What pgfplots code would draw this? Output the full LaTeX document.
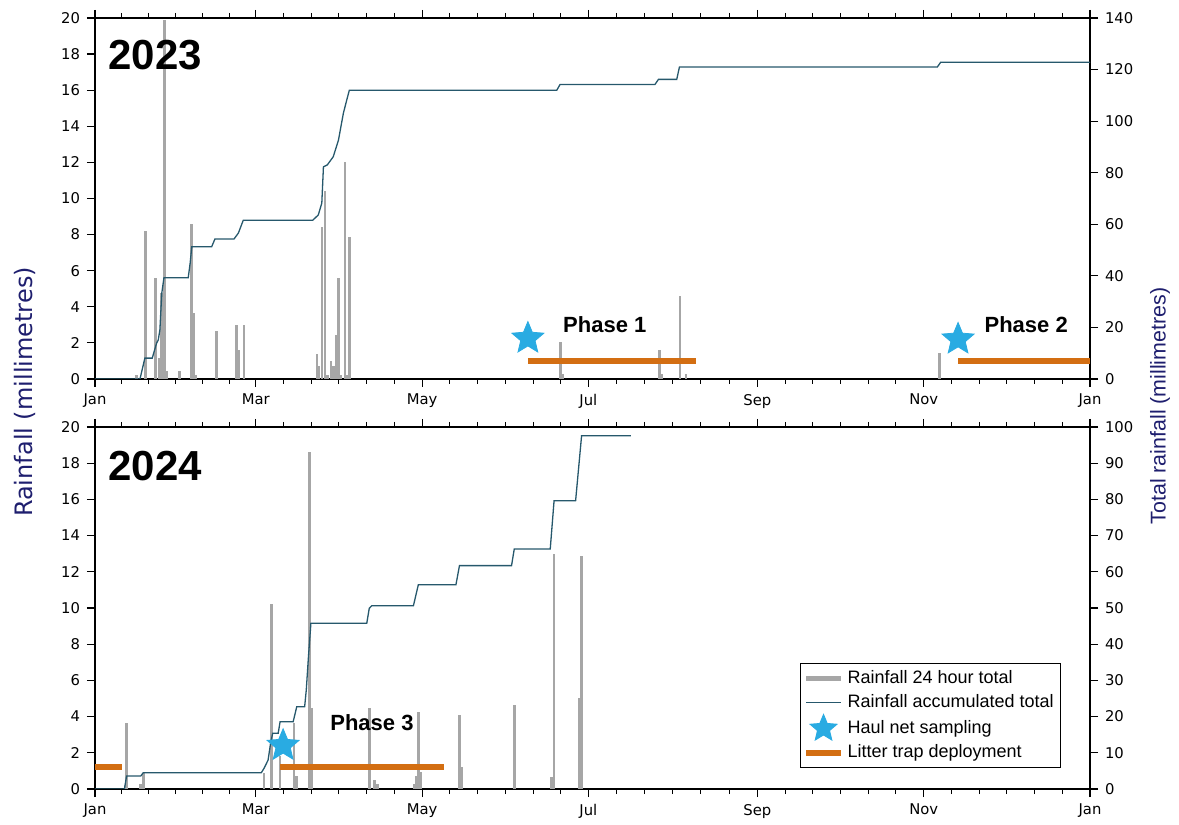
\documentclass[border=0pt]{standalone}
\usepackage{fontspec}
\setmainfont{DejaVu Sans}
\newfontfamily\arial{Liberation Sans}
\usepackage{pgfplots}
\pgfplotsset{compat=1.18}

\definecolor{barcol}{RGB}{166,166,166}
\definecolor{linecol}{RGB}{38,88,108}
\definecolor{starcol}{RGB}{41,171,226}
\definecolor{orangecol}{RGB}{211,110,18}
\definecolor{labcol}{RGB}{30,30,110}

\pgfdeclareplotmark{fstar}{%
  \pgfpathmoveto{\pgfpointpolar{90}{\pgfplotmarksize}}%
  \pgfpathlineto{\pgfpointpolar{126}{0.45\pgfplotmarksize}}%
  \pgfpathlineto{\pgfpointpolar{162}{\pgfplotmarksize}}%
  \pgfpathlineto{\pgfpointpolar{198}{0.45\pgfplotmarksize}}%
  \pgfpathlineto{\pgfpointpolar{234}{\pgfplotmarksize}}%
  \pgfpathlineto{\pgfpointpolar{270}{0.45\pgfplotmarksize}}%
  \pgfpathlineto{\pgfpointpolar{306}{\pgfplotmarksize}}%
  \pgfpathlineto{\pgfpointpolar{342}{0.45\pgfplotmarksize}}%
  \pgfpathlineto{\pgfpointpolar{18}{\pgfplotmarksize}}%
  \pgfpathlineto{\pgfpointpolar{54}{0.45\pgfplotmarksize}}%
  \pgfpathclose
  \pgfusepathqfillstroke}

\pgfplotsset{
  base/.style={scale only axis, width=497.5pt, xmin=0, xmax=365,
    /pgf/number format/assume math mode=true,
    tick label style={font=\fontsize{7.4}{8.5}\selectfont},
    axis line style={black, line width=0.7pt},
    tick style={black, line width=0.6pt},
    major tick length=4pt, minor tick length=2.5pt,
    tick align=outside},
  leftax/.style={base, ymin=0, ymax=20, ytick={0,2,...,20},
    xtick={0,59,120,181,243,304,365},
    xticklabels={Jan,Mar,May,Jul,Sep,Nov,Jan},
    minor xtick={9.8,19.7,29.5,39.3,49.2,69.2,79.3,89.5,99.7,109.8,130.2,140.3,150.5,160.7,170.8,191.3,201.7,212,222.3,232.7,253.2,263.3,273.5,283.7,293.8,314.2,324.3,334.5,344.7,354.8},
    minor x tick style={black, line width=0.5pt},
    xtick pos=both, xticklabel pos=bottom,
    ytick pos=left},
  rightax/.style={base, axis x line=none, axis y line*=right, ytick pos=right},
  overax/.style={base, hide axis, ymin=0, ymax=20},
}

\pgfplotstableread{
day mm
15.3 0.2
18.6 8.2
22.3 5.6
23.5 1.15
24.3 4.75
24.9 2.6
25.4 19.9
26.2 0.45
31.0 0.45
35.5 8.6
36.2 3.65
37.0 0.2
44.5 2.65
52.0 3.0
52.7 1.6
54.7 3.0
81.5 1.4
82.2 0.7
83.3 8.4
84.4 10.4
85.2 0.2
86.5 1.0
87.4 0.7
88.4 2.45
89.3 5.6
90.2 0.2
91.7 12.0
92.5 0.2
93.4 7.85
170.8 2.05
171.7 0.3
207.0 1.6
207.9 0.3
214.6 4.6
216.8 0.3
309.8 1.45
}\barsA

\pgfplotstableread{
day tot
0 0
16.5 0
18.3 8.1
21.0 8.1
22.6 13.9
23.2 15.1
23.8 19
24.5 33.3
25.3 39.3
34.2 39.3
34.9 44.9
35.5 51.3
42.8 51.3
44.0 54.3
51.0 54.3
52.6 56.6
54.4 61.6
79.9 61.6
81.9 63.6
83.2 68.2
83.8 82.3
85.2 83
87.4 86.2
89.3 92.6
91.1 103
92.3 108
93.3 112
169.4 112
170.6 114.2
205.4 114.2
206.7 116.2
213.4 116.2
214.4 121
309.0 121
310.2 122.8
365 122.8
}\lineA

\pgfplotstableread{
day mm
11.0 0.2
11.6 3.66
16.7 0.3
17.7 0.88
62.0 0.9
64.8 10.2
67.9 1.8
73.0 3.63
74.0 0.7
78.6 18.6
79.5 4.5
100.6 4.5
102.6 0.5
103.6 0.3
117.0 0.3
118.0 0.7
118.6 4.27
119.4 0.96
133.7 4.1
134.6 1.23
153.8 4.64
167.5 0.68
168.4 13.0
177.7 5.0
178.5 12.85
}\barsB

\pgfplotstableread{
day tot
0 0
10.8 0
11.6 3.6
16.8 3.6
17.7 4.5
61.0 4.5
62.0 5.7
63.5 8.0
64.5 13.1
65.2 15.4
67.2 15.4
67.9 18.6
72.7 18.6
74.0 22.7
76.9 22.7
77.5 27.3
78.3 36.5
79.2 45.8
99.7 45.8
100.6 49.9
101.5 50.6
116.8 50.6
118.6 56.4
132.4 56.4
133.7 61.7
152.8 61.7
153.8 66.3
167.0 66.3
168.4 79.6
176.3 79.6
178.5 97.6
196.6 97.6
}\lineB

\begin{document}
\begin{tikzpicture}
\path[use as bounding box] (0,0) rectangle (589.5pt,412.5pt);

% ===== 2023 =====
\begin{axis}[leftax, height=180.5pt, at={(47.5pt,223pt)}, anchor=south west]
  \addplot[ycomb, draw=barcol, line width=1.3pt, no markers] table[x=day, y=mm] {\barsA};
\end{axis}
\begin{axis}[rightax, height=180.5pt, at={(47.5pt,223pt)}, anchor=south west,
  ymin=0, ymax=140, ytick={0,20,...,140}]
  \addplot[draw=linecol, line width=0.65pt, no markers] table[x=day, y=tot] {\lineA};
\end{axis}
\begin{axis}[overax, height=180.5pt, at={(47.5pt,223pt)}, anchor=south west]
  \addplot[draw=orangecol, line width=3pt, no markers] coordinates {(158.8,1.0) (220.5,1.0)};
  \addplot[draw=orangecol, line width=3pt, no markers] coordinates {(316.6,1.0) (365,1.0)};
  \addplot[only marks, mark=fstar, mark size=8.4pt, draw=starcol, fill=starcol] coordinates {(158.8,2.25) (316.6,2.2)};
  \node[font=\arial\bfseries\fontsize{21}{24}\selectfont, anchor=west, inner sep=0pt] at (rel axis cs:0.013,0.897) {2023};
  \node[font=\arial\bfseries\fontsize{11}{13}\selectfont] at (axis cs:187,3.0) {Phase 1};
  \node[font=\arial\bfseries\fontsize{11}{13}\selectfont] at (axis cs:341.6,3.0) {Phase 2};
\end{axis}

% ===== 2024 =====
\begin{axis}[leftax, height=181pt, at={(47.5pt,18pt)}, anchor=south west]
  \addplot[ycomb, draw=barcol, line width=1.3pt, no markers] table[x=day, y=mm] {\barsB};
\end{axis}
\begin{axis}[rightax, height=181pt, at={(47.5pt,18pt)}, anchor=south west,
  ymin=0, ymax=100, ytick={0,10,...,100}]
  \addplot[draw=linecol, line width=0.65pt, no markers] table[x=day, y=tot] {\lineB};
\end{axis}
\begin{axis}[overax, height=181pt, at={(47.5pt,18pt)}, anchor=south west,
  legend style={at={(rel axis cs:0.7085,0.348)}, anchor=north west,
    draw=black, line width=0.5pt, fill=white,
    font=\arial\fontsize{9}{11.5}\selectfont, inner sep=1.5pt, row sep=0pt,
    cells={anchor=west}},
  legend cell align=left]
  \addplot[draw=orangecol, line width=3pt, no markers, forget plot] coordinates {(0,1.2) (10,1.2)};
  \addplot[draw=orangecol, line width=3pt, no markers, forget plot] coordinates {(67.9,1.2) (128,1.2)};
  \addplot[only marks, mark=fstar, mark size=8.4pt, draw=starcol, fill=starcol, forget plot] coordinates {(69,2.4)};
  \addlegendimage{line legend, draw=barcol, line width=2.5pt}
  \addlegendentry{Rainfall 24 hour total}
  \addlegendimage{line legend, draw=linecol, line width=0.6pt}
  \addlegendentry{Rainfall accumulated total}
  \addlegendimage{only marks, mark=fstar, mark size=7pt, draw=starcol, fill=starcol}
  \addlegendentry{Haul net sampling}
  \addlegendimage{line legend, draw=orangecol, line width=3pt}
  \addlegendentry{Litter trap deployment}
  \node[font=\arial\bfseries\fontsize{21}{24}\selectfont, anchor=west, inner sep=0pt] at (rel axis cs:0.013,0.892) {2024};
  \node[font=\arial\bfseries\fontsize{11}{13}\selectfont] at (axis cs:101.6,3.65) {Phase 3};
\end{axis}

\node[rotate=90, text=labcol, font=\fontsize{12}{14}\selectfont] at (12.5pt,216.5pt) {Rainfall (millimetres)};
\node[rotate=90, text=labcol, font=\arial\fontsize{10.7}{13}\selectfont] at (580pt,209.5pt) {Total rainfall (millimetres)};
\end{tikzpicture}
\end{document}
